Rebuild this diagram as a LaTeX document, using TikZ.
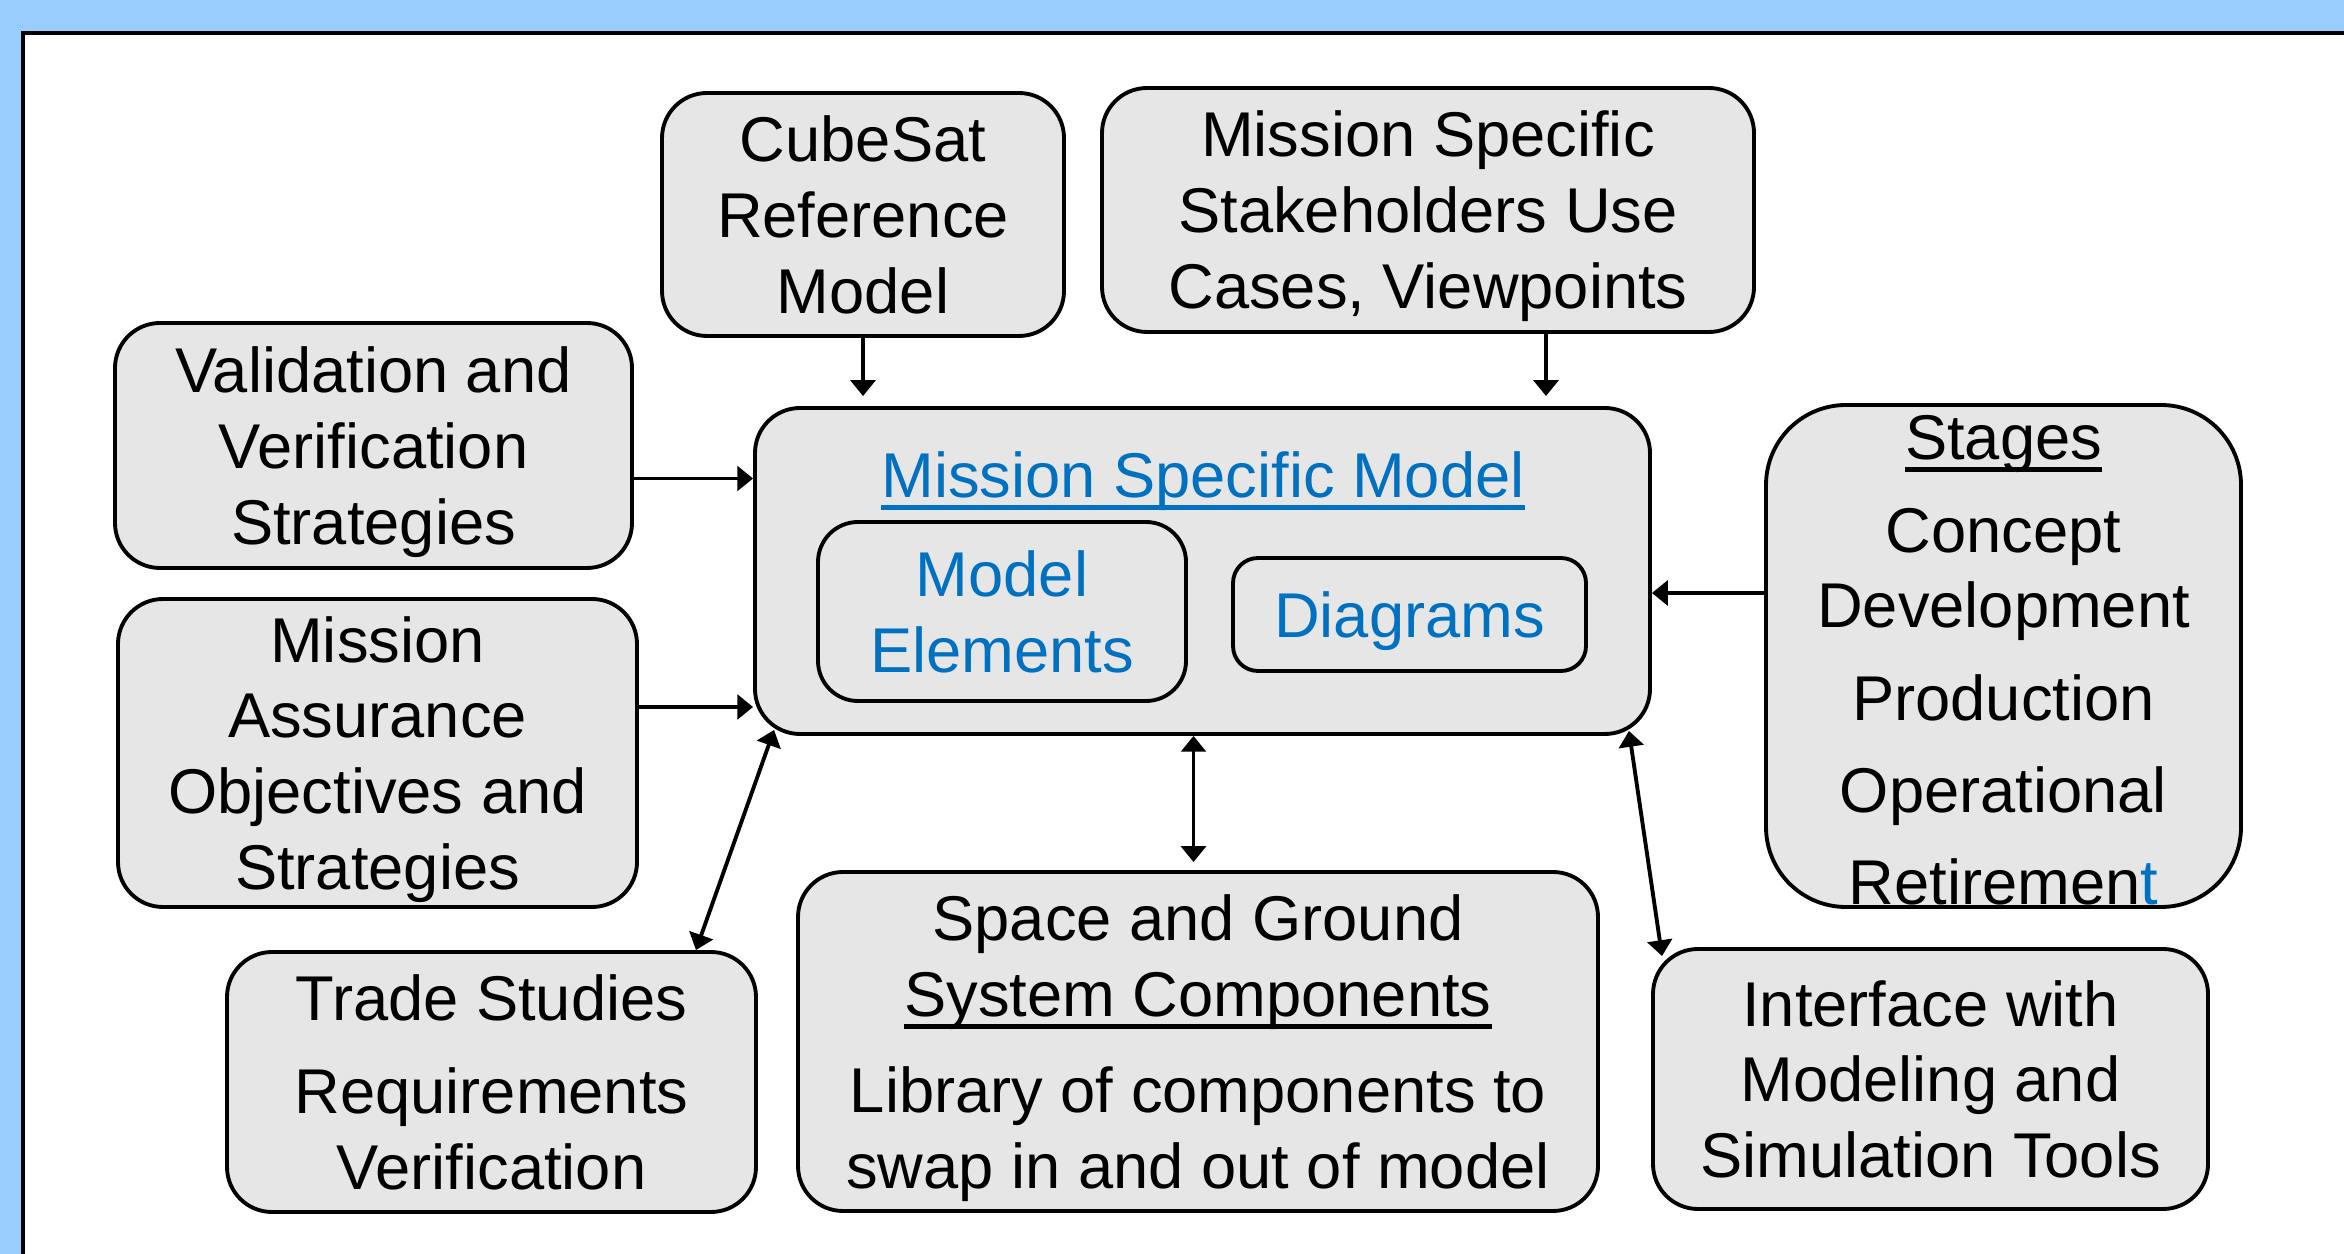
\documentclass[tikz,border=0pt]{standalone}
\usepackage{fontspec}
\setmainfont{Liberation Sans}
\usetikzlibrary{arrows.meta}
\definecolor{slideblue}{HTML}{99CCFF}
\definecolor{boxgray}{HTML}{E6E6E6}
\definecolor{linkblue}{HTML}{0070C0}
\newcommand{\boxfont}{\fontsize{18}{21.6}\selectfont}
% underline set close to the baseline, in the current colour
\newcommand{\uword}[1]{\setbox0\hbox{#1}\rlap{\rule[-0.19em]{\wd0}{0.08em}}\box0}
\tikzset{
  panel/.style   ={draw, line width=1.1pt, fill=boxgray, rounded corners=4.5mm,
                   align=center, font=\boxfont, inner sep=1pt, text depth=0pt},
  subpanel/.style={panel, text=linkblue},
  caption/.style ={align=center, font=\boxfont, inner sep=0pt, text depth=0pt},
  % single and double headed links between the panels
  feed/.style    ={line width=1.1pt, -{Triangle[length=4.5pt,width=7pt]}},
  twoway/.style  ={line width=1.1pt,
                   {Triangle[length=4.5pt,width=7pt]}-{Triangle[length=4.5pt,width=7pt]}},
}

\begin{document}
\begin{tikzpicture}
  \useasboundingbox (0,0) rectangle (23.44,-12.54);
  \fill[slideblue] (0,0) rectangle (23.44,-12.54);
  \begin{scope}
    \clip (0,0) rectangle (23.44,-12.54);
    \draw[line width=1.2pt, fill=white] (0.23,-0.33) rectangle (23.8,-12.9);
  \end{scope}

  % central model
  \node[panel, minimum width=8.95cm, minimum height=3.26cm] (main) at (12.025,-5.71) {};
  \node[caption, text=linkblue] (maintitle) at (12.03,-4.75)
       {\uword{Mission Specific Model}};
  \node[subpanel, rounded corners=4mm, minimum width=3.68cm, minimum height=1.79cm]
       (elements) at (10.02,-6.115) {Model\\Elements};
  \node[subpanel, rounded corners=2.5mm, minimum width=3.53cm, minimum height=1.13cm]
       (diagrams) at (14.095,-6.145) {Diagrams};

  % surrounding panels
  \node[panel, minimum width=4.02cm, minimum height=2.43cm] (cubesat) at (8.63,-2.145)
       {CubeSat\\Reference\\Model};
  \node[panel, minimum width=6.52cm, minimum height=2.44cm] (stakeholders) at (14.28,-2.10)
       {Mission Specific\\Stakeholders Use\\Cases, Viewpoints};
  \node[panel, minimum width=5.17cm, minimum height=2.45cm] (validation) at (3.735,-4.455)
       {Validation and\\Verification\\Strategies};
  \node[panel, minimum width=5.19cm, minimum height=3.08cm] (assurance) at (3.775,-7.53)
       {Mission\\Assurance\\Objectives and\\Strategies};
  \node[panel, rounded corners=8mm, minimum width=4.75cm, minimum height=5.02cm]
       (stages) at (20.035,-6.56) {};
  \node[caption] (stagelist) at (20.035,-6.60)
       {\uword{Stages}\\[4.6pt]Concept\\Development\\[4.6pt]Production\\[4.6pt]Operational\\[4.6pt]Retiremen\textcolor{linkblue}{t}};
  \node[panel, minimum width=5.29cm, minimum height=2.60cm] (trade) at (4.915,-10.82)
       {Trade Studies\\[5pt]Requirements\\Verification};
  \node[panel, minimum width=8.00cm, minimum height=3.39cm] (components) at (11.98,-10.415)
       {Space and Ground\\\uword{System Components}\\[5.6pt]Library of components to\\swap in and out of model};
  \node[panel, minimum width=5.55cm, minimum height=2.60cm] (interface) at (19.305,-10.79)
       {Interface with\\Modeling and\\Simulation Tools};

  % links
  \draw[feed] (cubesat.south) -- ([yshift=0.1cm]cubesat.south |- main.north);
  \draw[feed] ([xshift=1.18cm]stakeholders.south)
           -- ([xshift=1.18cm,yshift=0.1cm]stakeholders.south |- main.north);
  \draw[feed] ([yshift=-0.33cm]validation.east) -- ([yshift=-0.33cm]validation.east -| main.west);
  \draw[feed] ([yshift=0.46cm]assurance.east) -- ([yshift=0.46cm]assurance.east -| main.west);
  \draw[feed] ([yshift=0.63cm]stages.west) -- ([yshift=0.63cm]stages.west -| main.east);
  \draw[twoway] ([xshift=-0.09cm]main.south)
             -- ([xshift=-0.09cm,yshift=0.08cm]main.south |- components.north);
  \draw[twoway] ([xshift=0.21cm,yshift=0.06cm]main.south west) -- ([xshift=-0.62cm]trade.north east);
  \draw[twoway] ([xshift=-0.23cm,yshift=0.05cm]main.south east)
             -- ([xshift=0.11cm,yshift=-0.09cm]interface.north west);
\end{tikzpicture}
\end{document}
